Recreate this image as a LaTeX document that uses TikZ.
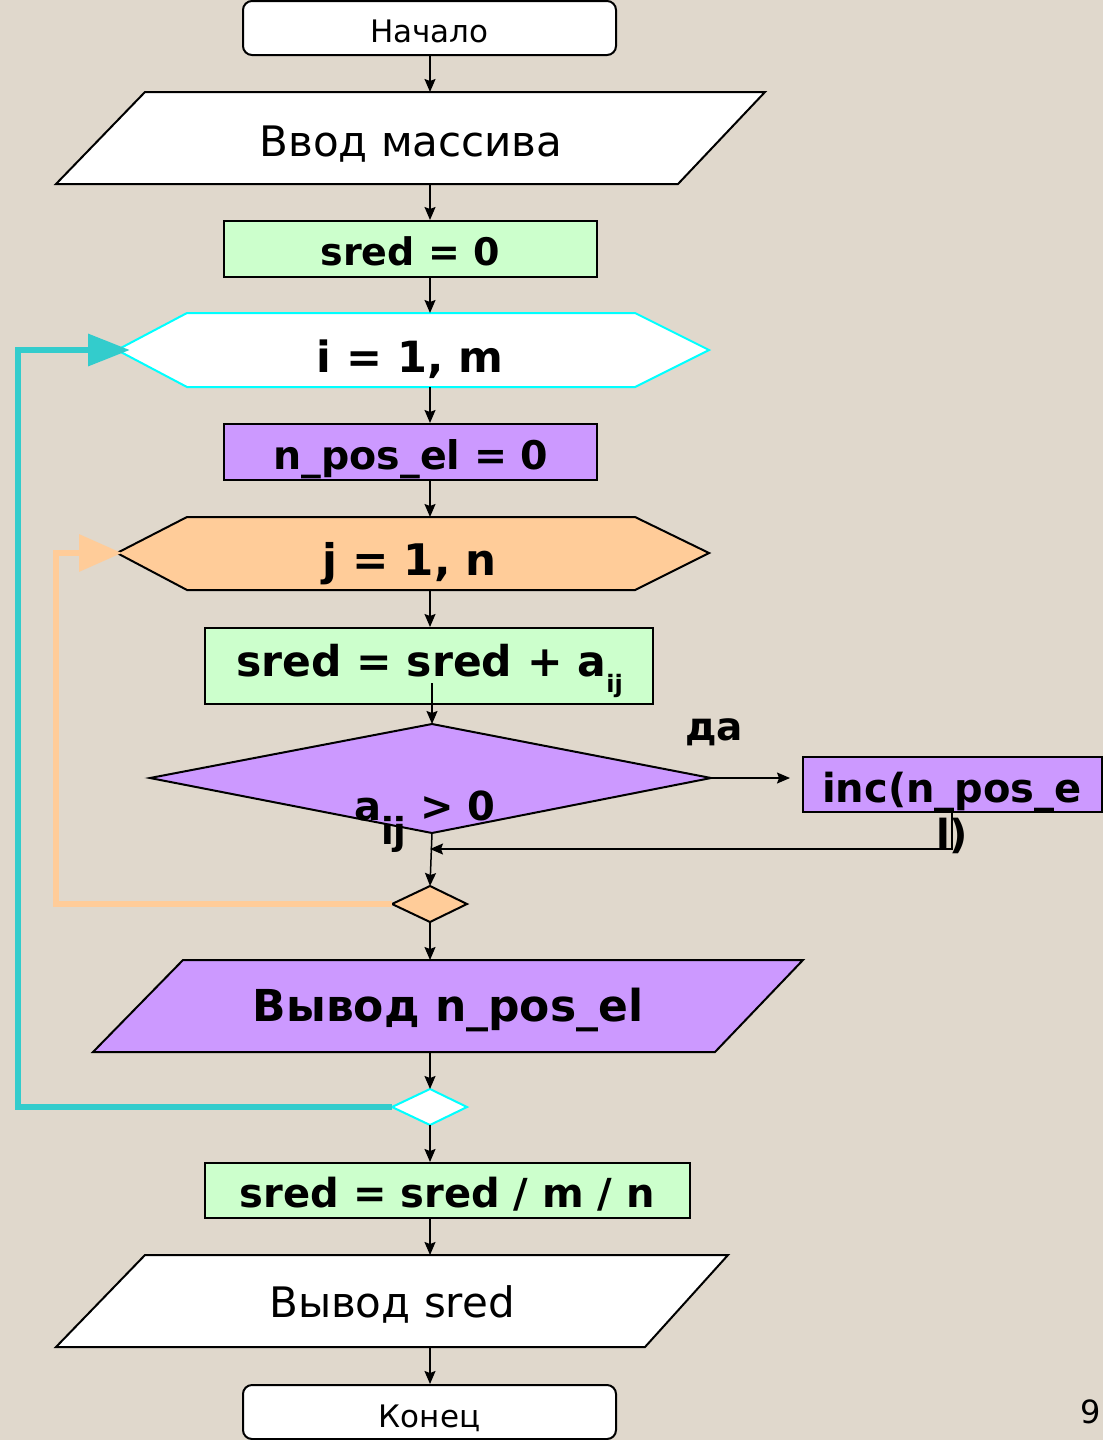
\documentclass[tikz,border=0pt]{standalone}
\usepackage{fontspec}
\setmainfont{DejaVu Sans}
\usetikzlibrary{arrows.meta}
\definecolor{bg}{RGB}{224,216,204}
\definecolor{lgreen}{RGB}{204,255,204}
\definecolor{lpurple}{RGB}{204,153,255}
\definecolor{lorange}{RGB}{255,204,153}
\definecolor{cyanb}{RGB}{0,255,255}
\definecolor{tealloop}{RGB}{51,204,204}
\tikzset{
  shp/.style={draw=black, line width=2pt, line join=miter},
  term/.style={shp, fill=white, rounded corners=9pt, minimum width=373pt, minimum height=54pt, inner sep=0pt},
  procbox/.style={shp, inner sep=0pt},
  flow/.style={-{Stealth[length=13pt,width=11pt,inset=2pt]}, line width=1.5pt},
  regtxt/.style={inner sep=0pt, anchor=base, font=\fontsize{42}{46}\selectfont},
  smalltxt/.style={inner sep=0pt, anchor=base, font=\fontsize{31}{36}\selectfont},
  bldtxt/.style={inner sep=0pt, anchor=base, font=\bfseries\fontsize{40}{44}\selectfont},
  loopline/.style={line width=6.5pt, line join=miter},
}
\begin{document}
\begin{tikzpicture}[x=1pt,y=-1pt]
\fill[bg] (0,0) rectangle (1103,1440);
\useasboundingbox (0,0) rectangle (1103,1440);

% Start
\node[term] (start) at (429.5,28) {};
\node[smalltxt] (starttxt) at (429.5,42) {Начало};

% Input array
\path[shp, fill=white] (145,92) -- (765,92) -- (678,184) -- (56,184) -- cycle;
\coordinate (in-t) at (430,92);
\coordinate (in-b) at (430,184);
\node[regtxt] (intxt) at (411,156) {Ввод массива};

% sred = 0
\node[procbox, fill=lgreen, minimum width=373pt, minimum height=56pt] (s0) at (410.5,249) {};
\node[bldtxt, font=\bfseries\fontsize{38}{42}\selectfont] (s0txt) at (410,265) {sred = 0};

% i loop hexagon
\path[draw=cyanb, line width=2pt, fill=white] (117,350) -- (187,313) -- (635,313) -- (709,350) -- (635,387) -- (187,387) -- cycle;
\coordinate (hi-t) at (430,313);
\coordinate (hi-b) at (430,387);
\coordinate (hi-l) at (130,350);
\node[bldtxt, font=\bfseries\fontsize{43}{46}\selectfont] (hitxt) at (410,372) {i = 1, m};

% n_pos_el = 0
\node[procbox, fill=lpurple, minimum width=373pt, minimum height=56pt] (np0) at (410.5,452) {};
\node[bldtxt, font=\bfseries\fontsize{39.5}{43}\selectfont] (np0txt) at (411,469) {n\_pos\_el = 0};

% j loop hexagon
\path[shp, fill=lorange] (117,553) -- (187,517) -- (635,517) -- (709,553) -- (635,590) -- (187,590) -- cycle;
\coordinate (hj-t) at (430,517);
\coordinate (hj-b) at (430,590);
\coordinate (hj-l) at (122,553);
\node[bldtxt, font=\bfseries\fontsize{43.5}{46}\selectfont] (hjtxt) at (409.5,575) {j = 1, n};

% sred = sred + a_ij
\node[procbox, fill=lgreen, minimum width=448pt, minimum height=76pt] (sum) at (429,666) {};
\node[bldtxt, font=\bfseries\fontsize{42.5}{46}\selectfont] (sumtxt) at (429.5,676) {sred = sred + a\raisebox{-16pt}{\fontsize{24}{26}\selectfont ij}};
\coordinate (sum-out) at (432,683);

% decision
\path[shp, fill=lpurple] (150,778) -- (432,724) -- (711,778) -- (432,833) -- cycle;
\coordinate (d-t) at (432,724);
\coordinate (d-r) at (711,778);
\coordinate (d-b) at (432,833);
\node[bldtxt, anchor=base west, font=\bfseries\fontsize{40}{44}\selectfont] (dtxt) at (354,820) {a\raisebox{-24pt}{\fontsize{37}{40}\selectfont ij} > 0};
\node[bldtxt, font=\bfseries\fontsize{39}{42}\selectfont] (yes) at (714,740) {да};

% inc box
\node[procbox, fill=lpurple, minimum width=299pt, minimum height=55pt] (inc) at (952.5,784.5) {};
\node[bldtxt, font=\bfseries\fontsize{40}{44}\selectfont] (inctxt) at (952,802) {inc(n\_pos\_e};
\node[bldtxt, anchor=base west, font=\bfseries\fontsize{40}{44}\selectfont] (inctxt2) at (936,848) {l)};
\coordinate (inc-l) at (790,778);
\coordinate (inc-b) at (952,812);
\coordinate (join) at (430,849);

% small orange diamond
\path[shp, fill=lorange] (392,904) -- (430,886) -- (467,904) -- (430,922) -- cycle;
\coordinate (oj-t) at (430,886);
\coordinate (oj-b) at (430,922);
\coordinate (oj-l) at (392,904);

% output n_pos_el
\path[shp, fill=lpurple] (183,960) -- (803,960) -- (715,1052) -- (93,1052) -- cycle;
\coordinate (out1-t) at (430,960);
\coordinate (out1-b) at (430,1052);
\node[bldtxt, font=\bfseries\fontsize{44}{48}\selectfont] (out1txt) at (448,1021) {Вывод n\_pos\_el};

% small cyan diamond
\path[draw=cyanb, line width=2pt, fill=white] (392,1107) -- (430,1089) -- (467,1107) -- (430,1125) -- cycle;
\coordinate (ci-t) at (430,1089);
\coordinate (ci-b) at (430,1125);
\coordinate (ci-l) at (392,1107);

% sred = sred / m / n
\node[procbox, fill=lgreen, minimum width=485pt, minimum height=55pt] (avg) at (447.5,1190.5) {};
\node[bldtxt, font=\bfseries\fontsize{40}{44}\selectfont] (avgtxt) at (447.5,1207) {sred = sred / m / n};

% output sred
\path[shp, fill=white] (145,1255) -- (728,1255) -- (645,1347) -- (56,1347) -- cycle;
\coordinate (out2-t) at (430,1255);
\coordinate (out2-b) at (430,1347);
\node[regtxt] (out2txt) at (392,1317) {Вывод sred};

% end
\node[term] (stop) at (429.5,1412) {};
\node[smalltxt] (stoptxt) at (429.5,1427) {Конец};

\node[smalltxt, font=\fontsize{32}{36}\selectfont] (pg) at (1091,1423) {9};

% connectors
\draw[flow] (start.south -| in-t) -- (in-t);
\draw[flow] (in-b) -- (s0.north -| in-b);
\draw[flow] (s0.south -| hi-t) -- (hi-t);
\draw[flow] (hi-b) -- (np0.north -| hi-b);
\draw[flow] (np0.south -| hj-t) -- (hj-t);
\draw[flow] (hj-b) -- (sum.north -| hj-b);
\draw[flow] (sum-out) -- (d-t);
\draw[flow] (d-r) -- (inc-l);
\draw[flow] (inc-b) |- (join);
\draw[flow] (d-b) -- (oj-t);
\draw[flow] (oj-b) -- (out1-t);
\draw[flow] (out1-b) -- (ci-t);
\draw[flow] (ci-b) -- (avg.north -| ci-b);
\draw[flow] (avg.south -| out2-t) -- (out2-t);
\draw[flow] (out2-b) -- (stop.north -| out2-b);

% loops
\draw[loopline, lorange, -{Triangle[length=43pt,width=36pt]}] (oj-l) -- (56,904) -- (56,553) -- (hj-l);
\draw[loopline, tealloop, -{Triangle[length=42pt,width=31pt]}] (ci-l) -- (18,1107) -- (18,350) -- (hi-l);
\end{tikzpicture}
\end{document}
